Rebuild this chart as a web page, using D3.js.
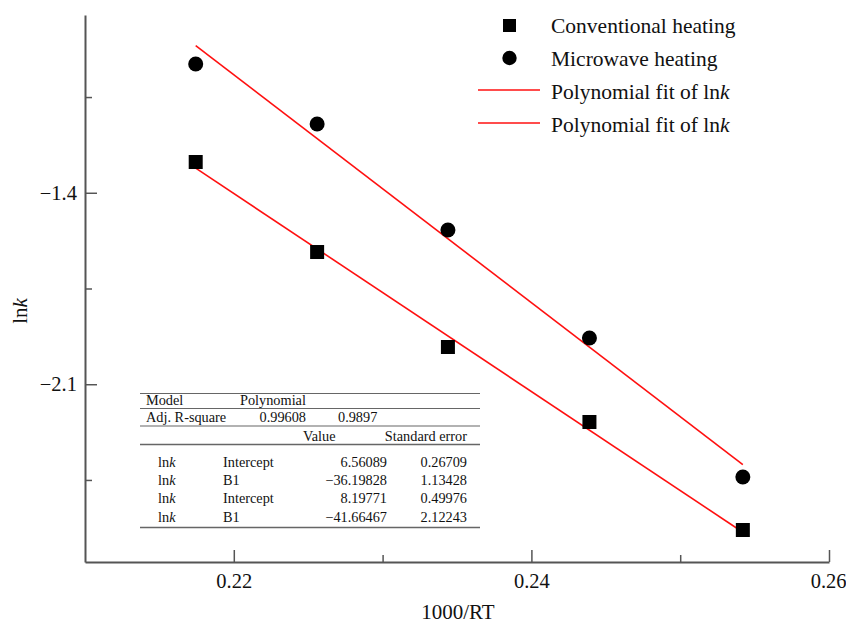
<!DOCTYPE html>
<html>
<head>
<meta charset="utf-8">
<script src="https://cdn.jsdelivr.net/npm/d3@7"></script>
<style>
  html, body { margin: 0; padding: 0; background: #fff; }
  svg { display: block; font-family: "Liberation Serif", "Times New Roman", serif; }
</style>
</head>
<body>
<svg id="chart" width="846" height="627"></svg>
<script>
// ---- data ----
const xValues = [0.21744, 0.22560, 0.23439, 0.24390, 0.25421];          // 1000/RT
const conventional = [-1.2875, -1.6166, -1.9639, -2.2381, -2.6330];     // ln k
const microwave = [-0.9292, -1.1485, -1.5361, -1.9310, -2.4392];        // ln k
const fitIntercepts = [6.56089, 8.19771];   // conventional, microwave
const fitSlopes = [-36.19828, -41.66467];
const xMajorTicks = [0.22, 0.24, 0.26];
const xMinorTicks = [0.23, 0.25];
const yMajorTicks = [-1.4, -2.1];
const yMinorTicks = [-1.05, -1.75, -2.45];
const legendLabels = ["Conventional heating", "Microwave heating", "Polynomial fit of ln", "Polynomial fit of ln"];
const tableModel = ["Model", "Polynomial"];
const tableR2 = ["Adj. R-square", "0.99608", "0.9897"];
const tableHeader = ["Value", "Standard error"];
const tableParams = ["Intercept", "B1", "Intercept", "B1"];
const tableValues = ["6.56089", "\u221236.19828", "8.19771", "\u221241.66467"];
const tableErrors = ["0.26709", "1.13428", "0.49976", "2.12243"];

// ---- layout ----
const svg = d3.select("#chart");
const x = d3.scaleLinear().domain([0.21, 0.26]).range([85, 829]);
const y = d3.scaleLinear().domain([-2.75, -0.75]).range([562, 15]);
const axisColor = "#555";

// axes
const gx = svg.append("g").attr("transform", "translate(0,562)")
  .call(d3.axisBottom(x).tickValues(xMajorTicks).tickSize(-12).tickSizeOuter(0)
    .tickPadding(11).tickFormat(d3.format(".2f")));
svg.append("g").attr("transform", "translate(0,562)")
  .call(d3.axisBottom(x).tickValues(xMinorTicks).tickSize(-7).tickSizeOuter(0).tickFormat(""))
  .select(".domain").remove();
svg.append("g").attr("transform", "translate(85,0)")
  .call(d3.axisLeft(y).tickValues(yMajorTicks).tickSize(-12).tickSizeOuter(0)
    .tickPadding(8).tickFormat(d3.format(".1f")));
svg.append("g").attr("transform", "translate(85,0)")
  .call(d3.axisLeft(y).tickValues(yMinorTicks).tickSize(-7).tickSizeOuter(0).tickFormat(""))
  .select(".domain").remove();

svg.selectAll(".domain").attr("stroke", axisColor).attr("stroke-width", 2);
svg.selectAll(".tick line").attr("stroke", axisColor).attr("stroke-width", 1.5);
svg.selectAll(".tick text").attr("font-family", "Liberation Serif").attr("font-size", 20.5).attr("fill", "#111");
// keep the last x label inside the picture
gx.selectAll(".tick text").filter(d => d === 0.26).attr("text-anchor", "end").attr("x", 17);

// axis titles
svg.append("text").attr("x", 458).attr("y", 619).attr("text-anchor", "middle")
  .attr("font-size", 21).attr("fill", "#111").text("1000/RT");
const yl = svg.append("text").attr("transform", "translate(27,311) rotate(-90)")
  .attr("text-anchor", "middle").attr("font-size", 21).attr("fill", "#111");
yl.append("tspan").text("ln");
yl.append("tspan").attr("font-style", "italic").text("k");

// fit lines
const fitLine = d3.line().x(d => x(d[0])).y(d => y(d[1]));
const xExtent = d3.extent(xValues);
fitIntercepts.forEach((b, i) => {
  const pts = xExtent.map(xv => [xv, b + fitSlopes[i] * xv]);
  svg.append("path").attr("d", fitLine(pts)).attr("fill", "none")
    .attr("stroke", "#ff1010").attr("stroke-width", 1.6);
});

// markers
const sq = 14;
svg.append("g").selectAll("rect").data(xValues).join("rect")
  .attr("x", (d) => x(d) - sq / 2).attr("y", (d, i) => y(conventional[i]) - sq / 2)
  .attr("width", sq).attr("height", sq).attr("fill", "#000");
svg.append("g").selectAll("circle").data(xValues).join("circle")
  .attr("cx", d => x(d)).attr("cy", (d, i) => y(microwave[i])).attr("r", 7.5).attr("fill", "#000");

// legend
const lg = svg.append("g");
lg.append("rect").attr("x", 503).attr("y", 19).attr("width", 13).attr("height", 13).attr("fill", "#000");
lg.append("circle").attr("cx", 509.5).attr("cy", 58).attr("r", 7.2).attr("fill", "#000");
[90, 123].forEach(yy => lg.append("line").attr("x1", 478).attr("x2", 540)
  .attr("y1", yy).attr("y2", yy).attr("stroke", "#ff1010").attr("stroke-width", 1.6));
const legendY = [33, 65.5, 98.5, 131.5];
legendLabels.forEach((t, i) => {
  const tx = lg.append("text").attr("x", 551).attr("y", legendY[i]).attr("font-size", 21.5).attr("fill", "#111");
  tx.append("tspan").text(t);
  if (i >= 2) tx.append("tspan").attr("font-style", "italic").text("k");
});

// table
const tb = svg.append("g").attr("font-size", 14.3).attr("fill", "#111");
const tl = 140, tr = 480;
[[393.5, 1.2], [408.5, 1.2], [426, 1.2], [444.5, 1.6], [527.5, 1.6]].forEach(([yy, w]) =>
  tb.append("line").attr("x1", tl).attr("x2", tr).attr("y1", yy).attr("y2", yy)
    .attr("stroke", "#666").attr("stroke-width", w));
tb.append("text").attr("x", 146).attr("y", 405).text(tableModel[0]);
tb.append("text").attr("x", 240).attr("y", 405).text(tableModel[1]);
tb.append("text").attr("x", 146).attr("y", 422).text(tableR2[0]);
tb.append("text").attr("x", 306).attr("y", 422).attr("text-anchor", "end").text(tableR2[1]);
tb.append("text").attr("x", 338).attr("y", 422).text(tableR2[2]);
tb.append("text").attr("x", 303).attr("y", 440.5).text(tableHeader[0]);
tb.append("text").attr("x", 467).attr("y", 440.5).attr("text-anchor", "end").text(tableHeader[1]);
const rowY = [466.5, 485, 503.3, 521.7];
tableParams.forEach((p, i) => {
  const t = tb.append("text").attr("x", 158).attr("y", rowY[i]);
  t.append("tspan").text("ln");
  t.append("tspan").attr("font-style", "italic").text("k");
  tb.append("text").attr("x", 223).attr("y", rowY[i]).text(p);
  tb.append("text").attr("x", 387).attr("y", rowY[i]).attr("text-anchor", "end").text(tableValues[i]);
  tb.append("text").attr("x", 467).attr("y", rowY[i]).attr("text-anchor", "end").text(tableErrors[i]);
});
</script>
</body>
</html>
